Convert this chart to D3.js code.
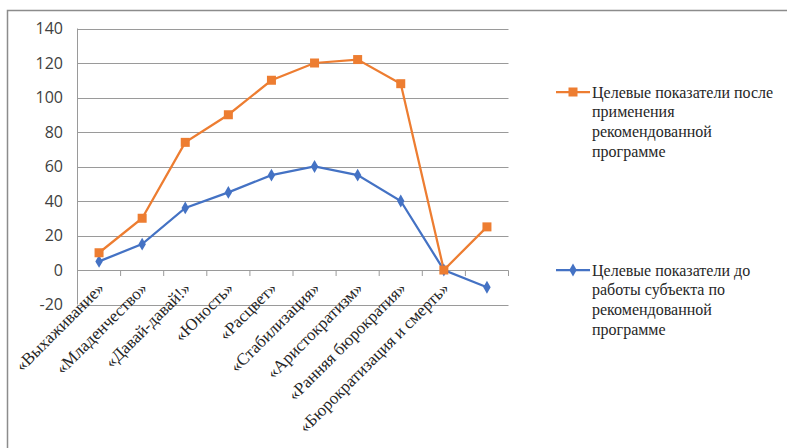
<!DOCTYPE html>
<html lang="ru">
<head>
<meta charset="UTF-8" />
<title>Целевые показатели</title>
<script src="https://d3js.org/d3.v7.min.js"></script>
<style>
  body { margin: 0; background: #fff; }
</style>
</head>
<body>
<svg width="787" height="448"></svg>
<script>
const categories = ["«Выхаживание»", "«Младенчество»", "«Давай-давай!»", "«Юность»", "«Расцвет»",
  "«Стабилизация»", "«Аристократизм»", "«Ранняя бюрократия»", "«Бюрократизация и смерть»", ""];
const afterValues = [10, 30, 74, 90, 110, 120, 122, 108, 0, 25];
const beforeValues = [5, 15, 36, 45, 55, 60, 55, 40, 0, -10];
const yTicks = [-20, 0, 20, 40, 60, 80, 100, 120, 140];
const afterLabel = ["Целевые показатели после", "применения", "рекомендованной", "программе"];
const beforeLabel = ["Целевые показатели до", "работы субъекта по", "рекомендованной", "программе"];

const orange = "#ED7D31", blue = "#4472C4";
const serif = "'Liberation Serif', 'DejaVu Serif', serif";
const sans = "'Open Sans', 'Liberation Sans', sans-serif";

const svg = d3.select("svg");

// outer frame (only the top and left edges are visible)
svg.append("rect")
  .attr("x", 7.5).attr("y", 10.5)
  .attr("width", 800).attr("height", 460)
  .attr("fill", "none").attr("stroke", "#8c8c8c").attr("stroke-width", 1.5);

const x = d3.scaleBand().domain(d3.range(categories.length)).range([77.5, 508.5]);
const y = d3.scaleLinear().domain([-20, 140]).range([304.5, 28.5]);

// gridlines
svg.append("g")
  .selectAll("line")
  .data(yTicks)
  .join("line")
  .attr("x1", 77.5).attr("x2", 508.5)
  .attr("y1", d => Math.round(y(d)) + 0.5).attr("y2", d => Math.round(y(d)) + 0.5)
  .attr("stroke", "#9a9a9a").attr("stroke-width", 1);

// y axis line
svg.append("line")
  .attr("x1", 77.5).attr("x2", 77.5)
  .attr("y1", y(140)).attr("y2", y(-20))
  .attr("stroke", "#9a9a9a");

// category tick marks on the zero line
svg.append("g")
  .selectAll("line")
  .data(d3.range(categories.length + 1))
  .join("line")
  .attr("x1", i => 77.5 + i * x.step()).attr("x2", i => 77.5 + i * x.step())
  .attr("y1", Math.round(y(0)) + 0.5).attr("y2", Math.round(y(0)) + 6)
  .attr("stroke", "#9a9a9a");

// y labels
svg.append("g")
  .selectAll("text")
  .data(yTicks)
  .join("text")
  .style("font-family", sans).style("font-size", "16px").attr("fill", "#404040")
  .attr("x", 63).attr("y", d => y(d))
  .attr("dy", "0.35em").attr("text-anchor", "end")
  .text(d => d);

// x labels
svg.append("g")
  .selectAll("text")
  .data(categories)
  .join("text")
  .style("font-family", serif).style("font-size", "17px").attr("fill", "#262626")
  .attr("text-anchor", "end")
  .attr("transform", (d, i) => `translate(${x(i) + x.bandwidth() / 2 + 2},${y(0) + 15}) rotate(-45)`)
  .attr("dy", "0.35em")
  .text(d => d);

const cx = i => x(i) + x.bandwidth() / 2;
const line = d3.line().x((d, i) => cx(i)).y(d => y(d));

svg.append("path").datum(beforeValues)
  .attr("d", line).attr("fill", "none").attr("stroke", blue).attr("stroke-width", 2.25);
svg.append("path").datum(afterValues)
  .attr("d", line).attr("fill", "none").attr("stroke", orange).attr("stroke-width", 2.25);

const diamond = d3.symbol().type(d3.symbolDiamond).size(48);

svg.append("g").selectAll("path")
  .data(beforeValues)
  .join("path")
  .attr("d", diamond)
  .attr("transform", (d, i) => `translate(${cx(i)},${y(d)})`)
  .attr("fill", blue);

svg.append("g").selectAll("rect")
  .data(afterValues)
  .join("rect")
  .attr("x", (d, i) => cx(i) - 4.5).attr("y", d => y(d) - 4.5)
  .attr("width", 9).attr("height", 9)
  .attr("fill", orange);

// legend
function legendItem(top, color, lines, isSquare) {
  const g = svg.append("g");
  g.append("line")
    .attr("x1", 556).attr("x2", 590).attr("y1", top).attr("y2", top)
    .attr("stroke", color).attr("stroke-width", 2.25);
  if (isSquare) {
    g.append("rect").attr("x", 568.5).attr("y", top - 4.5)
      .attr("width", 9).attr("height", 9).attr("fill", color);
  } else {
    g.append("path").attr("d", diamond)
      .attr("transform", `translate(573,${top})`).attr("fill", color);
  }
  g.selectAll("text")
    .data(lines)
    .join("text")
    .style("font-family", serif).style("font-size", "16px").attr("fill", "#262626")
    .attr("x", 592).attr("y", (d, i) => top + i * 19.8)
    .attr("dy", "0.35em")
    .text(d => d);
}
legendItem(92, orange, afterLabel, true);
legendItem(270, blue, beforeLabel, false);
</script>
</body>
</html>
